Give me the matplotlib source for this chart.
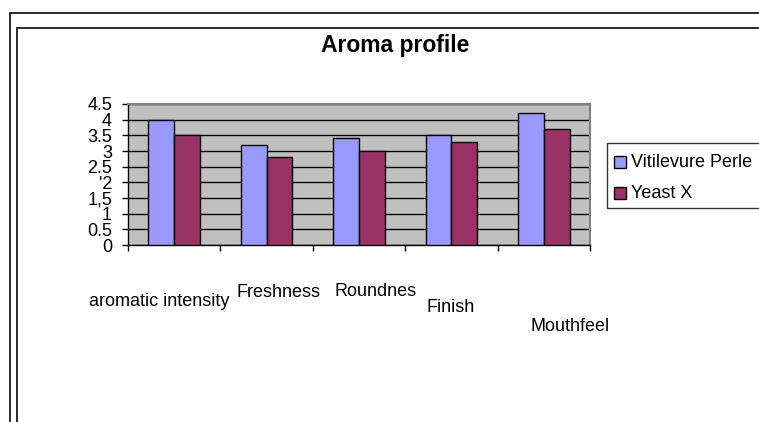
import matplotlib.pyplot as plt
import numpy as np
from matplotlib.patches import Rectangle

plt.rcParams['font.family'] = ['Liberation Sans', 'DejaVu Sans']

# dane wykresu
categories = ["aromatic intensity", "Freshness", "Roundnes", "Finish", "Mouthfeel"]
series_names = ["Vitilevure Perle", "Yeast X"]
perle = [4.0, 3.2, 3.4, 3.5, 4.2]
yeast_x = [3.5, 2.8, 3.0, 3.3, 3.7]
y_ticks = [0, 0.5, 1, 1.5, 2, 2.5, 3, 3.5, 4, 4.5]
y_tick_labels = ["0", "0.5", "1", "1,5", "'2", "2.5", "3", "3.5", "4", "4.5"]

colors = ["#9999FF", "#993366"]

W, H = 759, 422
fig = plt.figure(figsize=(W / 100, H / 100), dpi=100)
fig.patch.set_facecolor("white")

def px(x, y):
    # piksele -> wspolrzedne figury
    return x / W, 1 - y / H

# ramki (wychodza poza obraz)
for (x0, y0) in [(9.5, 13), (16.5, 27.5)]:
    fig.add_artist(Rectangle(px(x0, H + 20), 2, (H + 20 - y0) / H, transform=fig.transFigure,
                             fill=False, edgecolor="#1a1a1a", linewidth=1.3))

ax = fig.add_axes([128 / W, (H - 245) / H, 462 / W, 141 / H])
ax.set_facecolor("#C0C0C0")

x = np.arange(len(categories))
bw = 0.28
ax.bar(x - bw / 2, perle, bw, color=colors[0], edgecolor="black", linewidth=1, zorder=3)
ax.bar(x + bw / 2, yeast_x, bw, color=colors[1], edgecolor="black", linewidth=1, zorder=3)

ax.set_xlim(-0.5, len(categories) - 0.5)
ax.set_ylim(0, 4.5)
ax.set_yticks(y_ticks)
ax.set_yticklabels(y_tick_labels, fontsize=13)
ax.set_xticks(np.arange(len(categories) + 1) - 0.5)
ax.set_xticklabels([])
ax.tick_params(axis="y", direction="out", length=4.5, width=1, pad=7, colors="black")
ax.tick_params(axis="x", direction="out", length=4, width=1)
ax.yaxis.grid(True, color="black", linewidth=1)
ax.set_axisbelow(True)
for s in ["top", "right"]:
    ax.spines[s].set_color("#808080")
    ax.spines[s].set_linewidth(1.5)
for s in ["left", "bottom"]:
    ax.spines[s].set_color("black")
    ax.spines[s].set_linewidth(1)

# tytul
fig.text(*px(395, 52), "Aroma profile", ha="center", va="baseline",
         fontsize=16.5, fontweight="bold")

# etykiety kategorii (rozrzucone jak w oryginale)
label_pos = [(89, 306), (236, 297), (334, 296), (426, 312), (531, 331)]
for name, (lx, ly) in zip(categories, label_pos):
    fig.text(*px(lx, ly), name, ha="left", va="baseline", fontsize=13)

# legenda
fig.add_artist(Rectangle(px(607, 208), 0.5, 65 / H, transform=fig.transFigure,
                         fill=False, edgecolor="#333333", linewidth=1))
for i, name in enumerate(series_names):
    top = 156 + i * 31
    fig.add_artist(Rectangle(px(614, top + 11.5), 12 / W, 11.5 / H, transform=fig.transFigure,
                             facecolor=colors[i], edgecolor="black", linewidth=1))
    fig.text(*px(631, top + 11), name, ha="left", va="baseline", fontsize=13)

fig.savefig("out.png", dpi=100)
